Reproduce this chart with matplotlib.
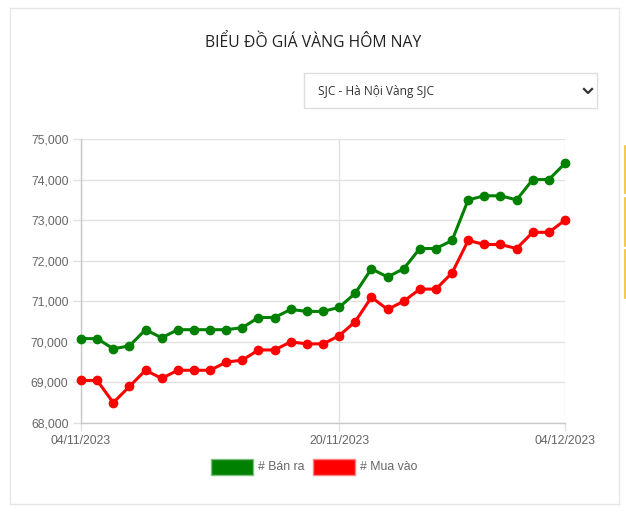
import numpy as np
import matplotlib
matplotlib.use("Agg")
import matplotlib.pyplot as plt
from matplotlib.patches import Rectangle
from matplotlib.lines import Line2D
from matplotlib.ticker import FuncFormatter

# Giá vàng SJC Hà Nội, 04/11/2023 - 04/12/2023 (nghìn đồng / lượng)
ban_ra = [70080, 70080, 69830, 69900, 70300, 70100, 70300, 70300, 70300, 70300,
          70350, 70600, 70600, 70800, 70750, 70750, 70850, 71200, 71800, 71600,
          71800, 72300, 72300, 72500, 73500, 73600, 73600, 73500, 74000, 74000,
          74400]
mua_vao = [69050, 69050, 68500, 68900, 69300, 69100, 69300, 69300, 69300, 69500,
           69550, 69800, 69800, 70000, 69950, 69950, 70150, 70500, 71100, 70800,
           71000, 71300, 71300, 71700, 72500, 72400, 72400, 72300, 72700, 72700,
           73000]
tick_pos = [0, 16, 30]
tick_labels = ["04/11/2023", "20/11/2023", "04/12/2023"]
y_ticks = [68000, 69000, 70000, 71000, 72000, 73000, 74000, 75000]

GREEN = "#008000"
RED = "#ff0000"
W, H = 626, 514

fig = plt.figure(figsize=(W / 100, H / 100), dpi=100)
fig.patch.set_facecolor("white")


def fx(px):
    return px / W


def fy(py):
    return 1 - py / H


# card border
fig.add_artist(Line2D([fx(10), fx(10)], [fy(8), fy(504)], color="#e6e6e6", lw=1))
fig.add_artist(Line2D([fx(619), fx(619)], [fy(8), fy(504)], color="#e6e6e6", lw=1))
fig.add_artist(Line2D([fx(10), fx(619)], [fy(8), fy(8)], color="#e6e6e6", lw=1))
fig.add_artist(Line2D([fx(10), fx(619)], [fy(504), fy(504)], color="#e6e6e6", lw=1))

# yellow marks at the right edge
for a, b in [(146, 193), (198, 246), (250, 298)]:
    fig.add_artist(Line2D([fx(625), fx(625)], [fy(a), fy(b)], color="#f0c030", lw=1.2))

# title
fig.text(fx(313), fy(43), "BIỂU ĐỒ GIÁ VÀNG HÔM NAY", ha="center", va="center",
         fontsize=11.3, color="#222222", family=["Open Sans", "DejaVu Sans"])

# dropdown
fig.add_artist(Rectangle((fx(304), fy(108)), fx(597) - fx(304), fy(73) - fy(108),
                         facecolor="white", edgecolor="#dddddd", lw=1))
fig.text(fx(318), fy(91), "SJC - Hà Nội Vàng SJC", ha="left", va="center",
         fontsize=8.6, color="#333333", family=["Open Sans", "DejaVu Sans"])
fig.add_artist(Line2D([fx(584), fx(588), fx(592)], [fy(89), fy(93), fy(89)],
                      color="#333333", lw=1.6))

# chart
ax = fig.add_axes([fx(81), fy(423), fx(565) - fx(81), fy(139) - fy(423)])
x = np.arange(len(ban_ra))
ax.plot(x, ban_ra, color=GREEN, lw=2.2, marker="o", ms=6, zorder=3, clip_on=False)
ax.plot(x, mua_vao, color=RED, lw=2.2, marker="o", ms=6, zorder=3, clip_on=False)

ax.set_xlim(0, 30)
ax.set_ylim(68000, 75000)
ax.set_yticks(y_ticks)
ax.yaxis.set_major_formatter(FuncFormatter(lambda v, p: f"{int(v):,}"))
ax.set_xticks(tick_pos)
ax.set_xticklabels(tick_labels)
ax.grid(True, color="#e1e1e1", lw=1)
ax.set_axisbelow(True)
for side in ["top", "right"]:
    ax.spines[side].set_visible(False)
for side in ["left", "bottom"]:
    ax.spines[side].set_color("#c8c8c8")
    ax.spines[side].set_linewidth(1)
ax.tick_params(axis="both", colors="#e1e1e1", length=6, width=1,
               labelcolor="#666666", labelsize=8.8, pad=3)
for lab in ax.get_xticklabels() + ax.get_yticklabels():
    lab.set_family("Liberation Sans")

# legend
fig.add_artist(Rectangle((fx(211), fy(475)), fx(253) - fx(211), fy(459) - fy(475),
                         facecolor=GREEN, edgecolor="#7fbf7f", lw=1))
fig.text(fx(258), fy(467), "# Bán ra", ha="left", va="center", fontsize=8.8,
         color="#666666", family="Liberation Sans")
fig.add_artist(Rectangle((fx(313), fy(475)), fx(355) - fx(313), fy(459) - fy(475),
                         facecolor=RED, edgecolor="#ff8080", lw=1))
fig.text(fx(360), fy(467), "# Mua vào", ha="left", va="center", fontsize=8.8,
         color="#666666", family="Liberation Sans")

fig.savefig("out.png", dpi=100)
